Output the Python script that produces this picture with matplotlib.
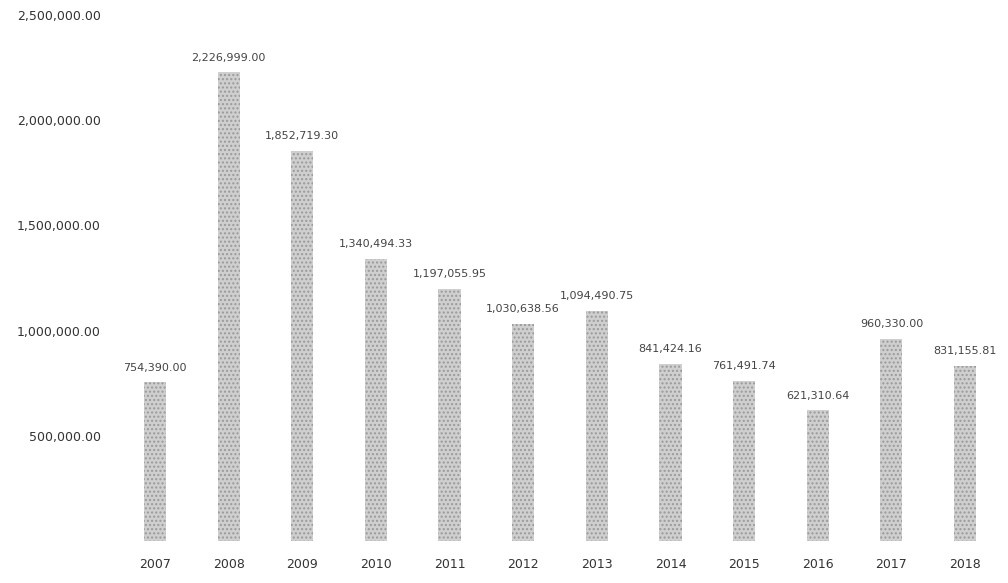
import matplotlib
matplotlib.use("Agg")
import matplotlib.pyplot as plt

# -----------------------------------------------
# Data
# -----------------------------------------------
years = ["2007", "2008", "2009", "2010", "2011", "2012",
         "2013", "2014", "2015", "2016", "2017", "2018"]
amounts = [754390.00, 2226999.00, 1852719.30, 1340494.33, 1197055.95, 1030638.56,
           1094490.75, 841424.16, 761491.74, 621310.64, 960330.00, 831155.81]
y_ticks = [500000, 1000000, 1500000, 2000000, 2500000]

# -----------------------------------------------
# Figure
# -----------------------------------------------
fig = plt.figure(figsize=(10.08, 5.83), dpi=100)
ax = fig.add_axes([120 / 1008, 42 / 583, 880 / 1008, 526 / 583])

x = list(range(len(years)))
ax.bar(x, amounts, width=0.3, color="#cfcfcf", hatch="....",
       edgecolor="#9a9a9a", linewidth=0)

# value labels above each bar
for xi, val in zip(x, amounts):
    ax.annotate(f"{val:,.2f}", (xi, val), xytext=(0, 7), textcoords="offset points",
                ha="center", va="bottom", fontsize=8, color="#444444")

ax.set_xlim(-0.475, 11.475)
ax.set_ylim(0, 2500000)
ax.set_xticks(x)
ax.set_xticklabels(years, fontsize=9, color="#333333")
ax.set_yticks(y_ticks)
ax.set_yticklabels([f"{t:,.2f}" for t in y_ticks], fontsize=9, color="#333333")
ax.tick_params(axis="both", length=0)
ax.tick_params(axis="x", pad=12)
ax.tick_params(axis="y", pad=14)

for side in ["top", "right", "left", "bottom"]:
    ax.spines[side].set_visible(False)

fig.savefig("out.png", dpi=100)
